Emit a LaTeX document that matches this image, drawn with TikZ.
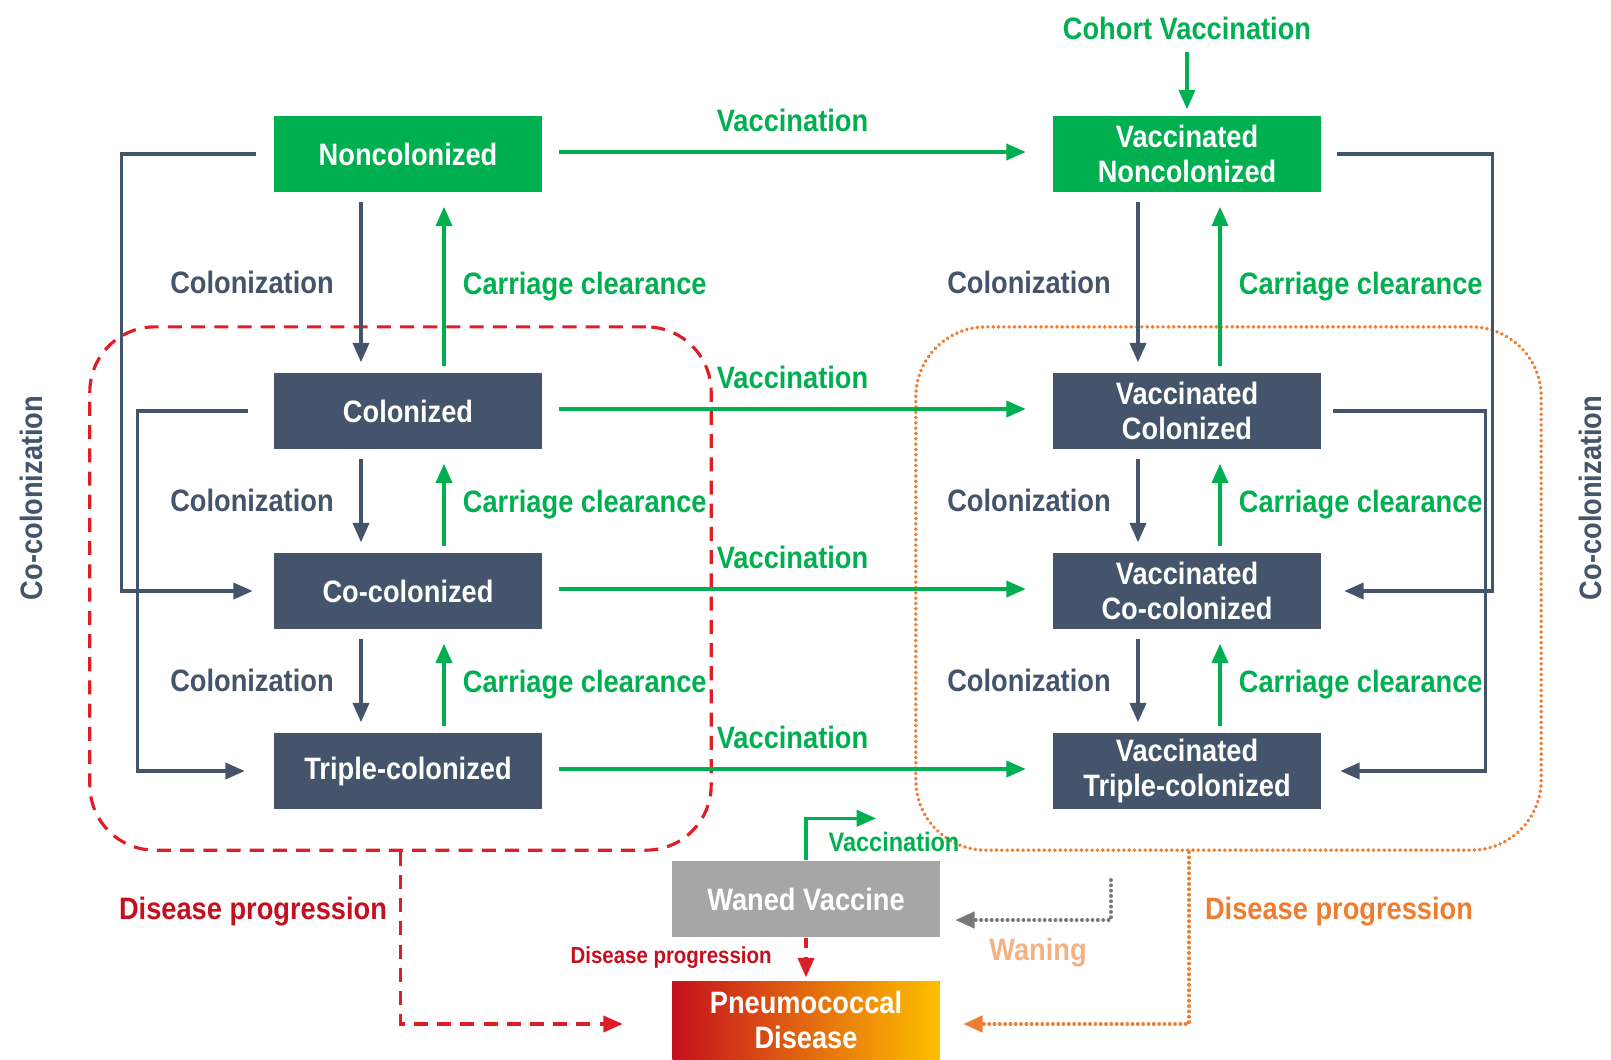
\documentclass[tikz,border=0pt]{standalone}
\usepackage{fontspec}
\setmainfont{Liberation Sans}[FakeStretch=0.88]
\usepackage{tikz}
\usetikzlibrary{arrows.meta,positioning,calc}
\definecolor{mygreen}{RGB}{0,176,80}
\definecolor{mynavy}{RGB}{68,84,106}
\definecolor{mygray}{RGB}{166,166,166}
\definecolor{mydotgray}{RGB}{120,120,120}
\definecolor{myred}{RGB}{222,30,38}
\definecolor{mydarkred}{RGB}{196,16,30}
\definecolor{myorange}{RGB}{237,125,49}
\definecolor{mypeach}{RGB}{244,177,131}
\definecolor{mygold}{RGB}{255,192,0}
\definecolor{mymid}{RGB}{236,110,10}

\begin{document}
\begin{tikzpicture}[
  x=0.01cm, y=-0.01cm,
  font=\bfseries\fontsize{8.8}{10}\selectfont,
  mybox/.style={
    fill=#1,
    text=white,
    align=center,
    minimum width=2.67cm,
    minimum height=0.76cm,
    inner sep=0pt
    },
  myline/.style={line width=0.9pt, -{Triangle[length=5.5pt,width=4.6pt]}},
  greenarrow/.style={myline, draw=mygreen},
  navyarrow/.style={myline, draw=mynavy},
  greentext/.style={text=mygreen},
  navytext/.style={text=mynavy},
  reddash/.style={draw=myred, line width=0.9pt, dash pattern=on 4pt off 2.6pt},
  orangedot/.style={draw=myorange, line width=1.1pt, line cap=round, dash pattern=on 0.01pt off 1.5pt},
  graydot/.style={draw=mydotgray, line width=1.1pt, line cap=round, dash pattern=on 0.01pt off 1.5pt}
]
\useasboundingbox (0,0) rectangle (1611,1059);

% states
\node[mybox=mygreen] (noncol)  at (408,154) {Noncolonized};
\node[mybox=mynavy]  (col)     at (408,411) {Colonized};
\node[mybox=mynavy]  (cocol)   at (408,591) {Co-colonized};
\node[mybox=mynavy]  (triple)  at (408,771) {Triple-colonized};
\node[mybox=mygreen] (vnoncol) at (1187,154) {Vaccinated\\Noncolonized};
\node[mybox=mynavy]  (vcol)    at (1187,411) {Vaccinated\\Colonized};
\node[mybox=mynavy]  (vcocol)  at (1187,591) {Vaccinated\\Co-colonized};
\node[mybox=mynavy]  (vtriple) at (1187,771) {Vaccinated\\Triple-colonized};
\node[mybox=mygray]  (waned)   at (806,899) {Waned Vaccine};
\node[mybox=mydarkred, minimum height=0.78cm,
  left color=mydarkred, middle color=mymid, right color=mygold]
  (disease) at (806,1020) {Pneumococcal\\Disease};

% groups
\node[reddash, rounded corners=0.65cm, minimum width=6.21cm, minimum height=5.23cm]
  (redgroup) at (400.5,588.5) {};
\node[orangedot, rounded corners=0.7cm, minimum width=6.25cm, minimum height=5.23cm]
  (orangegroup) at (1228.5,588.5) {};

% cohort vaccination
\node[greentext] (cohort) at (1187,28) {Cohort Vaccination};
\draw[greenarrow] (cohort.south) -- ($(vnoncol.north)+(0,-6)$);

% vaccination between columns
\foreach \Left/\Right in {noncol/vnoncol, col/vcol, cocol/vcocol, triple/vtriple}
  \draw[greenarrow] ($(\Left.east)+(17,-2)$) --
    node[above=2pt, greentext] (vac-\Left) {Vaccination}
    ($(\Right.west)+(-27,-2)$);

% colonization and clearance, left column
\foreach \Upper/\Lower in {noncol/col, col/cocol, cocol/triple}
{
  \draw[navyarrow] ($(\Upper.south)+(-47,9)$) --
    node[left=4pt, navytext] (colon-\Upper) {Colonization}
    ($(\Lower.north)+(-47,-10)$);
  \draw[greenarrow] ($(\Lower.north)+(36,-6)$) --
    node[right=1.6pt, greentext] (clear-\Upper) {Carriage clearance}
    ($(\Upper.south)+(36,14)$);
}

% colonization and clearance, right column
\foreach \Upper/\Lower in {vnoncol/vcol, vcol/vcocol, vcocol/vtriple}
{
  \draw[navyarrow] ($(\Upper.south)+(-49,9)$) --
    node[left=4pt, navytext] (colon-\Upper) {Colonization}
    ($(\Lower.north)+(-49,-10)$);
  \draw[greenarrow] ($(\Lower.north)+(33,-6)$) --
    node[right=1.6pt, greentext] (clear-\Upper) {Carriage clearance}
    ($(\Upper.south)+(33,14)$);
}

% co-colonization loops
\draw[navyarrow] ($(noncol.west)+(-18,0)$) -- ++(-134,0) |- ($(cocol.west)+(-21,0)$);
\draw[navyarrow] ($(col.west)+(-26,0)$) -- ++(-110,0) |- ($(triple.west)+(-29,0)$);
\draw[navyarrow] ($(vnoncol.east)+(16,0)$) -- ++(155,0) |- ($(vcocol.east)+(23,0)$);
\draw[navyarrow] ($(vcol.east)+(12,0)$) -- ++(152,0) |- ($(vtriple.east)+(19,0)$);
\node[navytext, rotate=90] (cocolL) at (31,498) {Co-colonization};
\node[navytext, rotate=90] (cocolR) at (1590,498) {Co-colonization};

% disease progression
\draw[reddash, -{Triangle[length=5.5pt,width=4.6pt]}]
  (redgroup.south) |- ($(disease.west)+(-49,4)$);
\node[text=mydarkred] (progL) at (253,912) {Disease progression};
\draw[orangedot, -{Triangle[length=5.5pt,width=4.6pt]}]
  ($(orangegroup.south)+(-39.5,0)$) |- ($(disease.east)+(23,4)$);
\node[text=myorange] (progR) at (1339,912) {Disease progression};

% waning
\coordinate (wanetop) at (1111,880);
\draw[graydot, -{Triangle[length=5.5pt,width=4.6pt]}]
  (wanetop) |- ($(waned.east)+(15,21)$);
\node[text=mypeach] (waning) at (1038,953) {Waning};

% waned vaccine
\draw[greenarrow] (waned.north) -- ++(0,-42) -- ++(70,0);
\node[greentext, font=\bfseries\fontsize{7.6}{9}\selectfont] (vacw) at (894,842) {Vaccination};
\draw[reddash, dash pattern=on 3pt off 2.4pt, -{Triangle[length=5.5pt,width=4.6pt]}]
  (waned.south) --
  node[left=6pt, text=mydarkred, font=\bfseries\fontsize{6.6}{8}\selectfont] (progW) {Disease progression}
  ($(disease.north)+(0,-3)$);

\end{tikzpicture}
\end{document}
